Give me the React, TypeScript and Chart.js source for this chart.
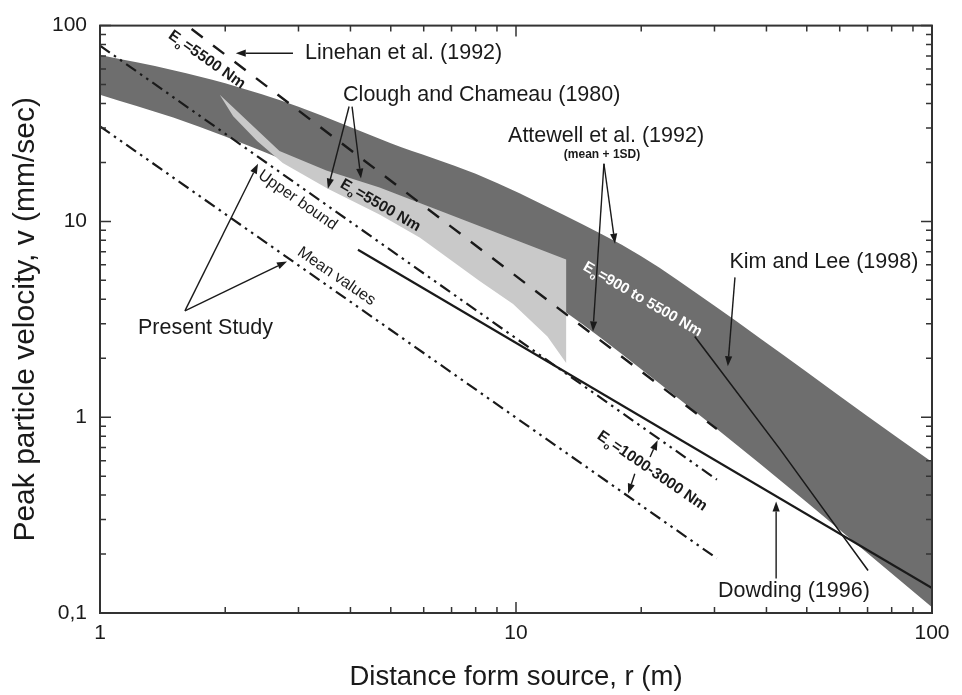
import React, { useEffect, useRef } from "react";
import { Chart, registerables } from "chart.js";

Chart.register(...registerables);

const FONT = "'Liberation Sans', Arial, Helvetica, sans-serif";
const INK = "#1a1a1a";

// ---- Data (r in m, v in mm/sec) ----
const bandR = [1, 1.5, 2, 3, 5, 8, 13, 20, 30, 50, 70, 100];
const bandUpperV = [70.7, 59.2, 50.7, 38.5, 25.1, 17.5, 10.8, 6.64, 3.71, 1.7, 1.01, 0.59];
const bandLowerV = [44.4, 33.9, 27.1, 19.05, 11.4, 6.79, 3.51, 1.76, 0.89, 0.368, 0.202, 0.107];

const cloughUpperR = [1.94, 2.7, 3.5, 4.7, 6.8, 13.2];
const cloughUpperV = [44.4, 22.9, 18.2, 14.9, 11.0, 6.39];
const cloughLowerR = [1.94, 2.09, 2.39, 2.75, 3.53, 4.71, 5.88, 8.19, 9.84, 11.9, 13.2];
const cloughLowerV = [44.4, 34.4, 25.7, 19.9, 14.7, 10.8, 8.25, 4.95, 3.79, 2.58, 1.89];

const linehanR = [1.66, 30.4];
const linehanV = [96, 0.87];
const upperBoundR = [1, 30.4];
const upperBoundV = [79, 0.48];
const meanR = [1, 30.4];
const meanV = [30.6, 0.19];
const dowdingR = [4.17, 100];
const dowdingV = [7.17, 0.134];
const kimR = [26.9, 43.1, 61.1, 70.2];
const kimV = [2.58, 0.687, 0.247, 0.165];

const xTicks = [1, 10, 100];
const xTickLabels = ["1", "10", "100"];
const yTicks = [0.1, 1, 10, 100];
const yTickLabels = ["0,1", "1", "10", "100"];
const minorSteps = [1, 2, 3, 4, 5, 6, 7, 8, 9];

// ---- Annotations (anchored in data coordinates) ----
const plainNotes = [
  { text: "Linehan et al. (1992)", r: 3.11, v: 72.3 },
  { text: "Clough and Chameau (1980)", r: 3.84, v: 44.4 },
  { text: "Attewell et al. (1992)", r: 9.57, v: 27.3 },
  { text: "Kim and Lee (1998)", r: 32.6, v: 6.17 },
  { text: "Present Study", r: 1.234, v: 2.85 },
  { text: "Dowding (1996)", r: 30.6, v: 0.129 },
];
const smallNote = { text: "(mean + 1SD)", r: 16.1, v: 21.9 };

const rotatedNotes = [
  { pre: "E", sub: "o", post: "=5500 Nm", r: 1.803, v: 67.1, angle: 35, bold: true, color: INK, size: 15.5 },
  { pre: "E", sub: "o", post: "=5500 Nm", r: 4.71, v: 12.1, angle: 30, bold: true, color: INK, size: 15.5 },
  { pre: "Upper bound", sub: "", post: "", r: 2.985, v: 12.82, angle: 35, bold: false, color: INK, size: 16 },
  { pre: "Mean values", sub: "", post: "", r: 3.7, v: 5.24, angle: 34.5, bold: false, color: INK, size: 16 },
  { pre: "E", sub: "o", post: "=900 to 5500 Nm", r: 20.1, v: 4.01, angle: 30, bold: true, color: "#ffffff", size: 15 },
  { pre: "E", sub: "o", post: "=1000-3000 Nm", r: 21.2, v: 0.532, angle: 34.5, bold: true, color: INK, size: 15.5 },
];

const arrows = [
  { from: [2.91, 72.3], to: [2.12, 72.3] },
  { from: [3.97, 38.6], to: [3.53, 14.7] },
  { from: [4.035, 38.6], to: [4.24, 16.55] },
  { from: [16.27, 19.7], to: [15.31, 2.74] },
  { from: [16.27, 19.7], to: [17.3, 7.69] },
  { from: [33.6, 5.18], to: [32.3, 1.82] },
  { from: [1.6, 3.49], to: [2.398, 19.7] },
  { from: [1.6, 3.49], to: [2.815, 6.24] },
  { from: [21.0, 0.626], to: [21.9, 0.763] },
  { from: [19.3, 0.514], to: [18.6, 0.407] },
  { from: [42.2, 0.15], to: [42.2, 0.371] },
];

const toPoints = (rs: number[], vs: number[]) => rs.map((r, i) => ({ x: r, y: vs[i] }));

const cloughPolygon = [
  ...toPoints(cloughUpperR, cloughUpperV),
  ...toPoints(cloughLowerR, cloughLowerV).reverse(),
];

function drawArrow(ctx: CanvasRenderingContext2D, x1: number, y1: number, x2: number, y2: number) {
  const head = 10;
  const half = 3.6;
  const ang = Math.atan2(y2 - y1, x2 - x1);
  const bx = x2 - head * Math.cos(ang);
  const by = y2 - head * Math.sin(ang);
  ctx.beginPath();
  ctx.moveTo(x1, y1);
  ctx.lineTo(bx, by);
  ctx.stroke();
  ctx.beginPath();
  ctx.moveTo(x2, y2);
  ctx.lineTo(bx + half * Math.sin(ang), by - half * Math.cos(ang));
  ctx.lineTo(bx - half * Math.sin(ang), by + half * Math.cos(ang));
  ctx.closePath();
  ctx.fill();
}

const overlayPlugin = {
  id: "overlay",
  afterDraw(chart: any) {
    const { ctx, chartArea: a } = chart;
    const xs = chart.scales.x;
    const ys = chart.scales.y;
    const px = (r: number) => xs.getPixelForValue(r);
    const py = (v: number) => ys.getPixelForValue(v);
    ctx.save();

    // frame
    ctx.strokeStyle = "#333";
    ctx.lineWidth = 2;
    ctx.strokeRect(a.left, a.top, a.right - a.left, a.bottom - a.top);

    // inward ticks
    ctx.lineWidth = 1.5;
    const tick = (scale: any, horizontal: boolean) => {
      const e0 = Math.floor(Math.log10(scale.min) + 1e-9);
      const e1 = Math.ceil(Math.log10(scale.max) - 1e-9);
      for (let e = e0; e <= e1; e++) {
        for (const m of minorSteps) {
          const val = m * Math.pow(10, e);
          if (val < scale.min * 0.999 || val > scale.max * 1.001) continue;
          const len = m === 1 ? 11 : 6;
          const p = scale.getPixelForValue(val);
          ctx.beginPath();
          if (horizontal) {
            ctx.moveTo(p, a.bottom);
            ctx.lineTo(p, a.bottom - len);
            ctx.moveTo(p, a.top);
            ctx.lineTo(p, a.top + len);
          } else {
            ctx.moveTo(a.left, p);
            ctx.lineTo(a.left + len, p);
            ctx.moveTo(a.right, p);
            ctx.lineTo(a.right - len, p);
          }
          ctx.stroke();
        }
      }
    };
    tick(xs, true);
    tick(ys, false);

    // arrows
    ctx.strokeStyle = INK;
    ctx.fillStyle = INK;
    ctx.lineWidth = 1.4;
    for (const ar of arrows) {
      drawArrow(ctx, px(ar.from[0]), py(ar.from[1]), px(ar.to[0]), py(ar.to[1]));
    }

    // plain labels
    ctx.textBaseline = "middle";
    ctx.textAlign = "left";
    ctx.fillStyle = INK;
    ctx.font = `21.5px ${FONT}`;
    for (const n of plainNotes) ctx.fillText(n.text, px(n.r), py(n.v));
    ctx.font = `bold 12px ${FONT}`;
    ctx.textAlign = "center";
    ctx.fillText(smallNote.text, px(smallNote.r), py(smallNote.v));

    // rotated labels
    for (const n of rotatedNotes) {
      ctx.save();
      ctx.translate(px(n.r), py(n.v));
      ctx.rotate((n.angle * Math.PI) / 180);
      const weight = n.bold ? "bold " : "";
      const mainF = `${weight}${n.size}px ${FONT}`;
      const subF = `${weight}${n.size * 0.62}px ${FONT}`;
      ctx.font = mainF;
      const w1 = ctx.measureText(n.pre).width;
      let w2 = 0;
      let w3 = 0;
      if (n.sub) {
        ctx.font = subF;
        w2 = ctx.measureText(n.sub).width;
        ctx.font = mainF;
        w3 = ctx.measureText(n.post).width;
      }
      const x0 = -(w1 + w2 + w3) / 2;
      ctx.textAlign = "left";
      ctx.textBaseline = "middle";
      ctx.fillStyle = n.color;
      ctx.font = mainF;
      ctx.fillText(n.pre, x0, 0);
      if (n.sub) {
        ctx.font = subF;
        ctx.fillText(n.sub, x0 + w1, n.size * 0.38);
        ctx.font = mainF;
        ctx.fillText(n.post, x0 + w1 + w2 + 1, 0);
      }
      ctx.restore();
    }
    ctx.restore();
  },
};

const lineDs = (data: any[], extra: any) => ({
  data,
  pointRadius: 0,
  borderColor: INK,
  fill: false,
  tension: 0,
  ...extra,
});

export default function App() {
  const ref = useRef<HTMLCanvasElement | null>(null);

  useEffect(() => {
    document.body.style.margin = "0";
    const canvas = ref.current;
    if (!canvas) return;
    const chart = new Chart(canvas, {
      type: "line",
      data: {
        datasets: [
          lineDs(toPoints(bandR, bandUpperV), {
            fill: "+1",
            backgroundColor: "#6e6e6e",
            borderWidth: 0,
            borderColor: "rgba(0,0,0,0)",
            cubicInterpolationMode: "monotone",
            order: 10,
          }),
          lineDs(toPoints(bandR, bandLowerV), {
            borderWidth: 0,
            borderColor: "rgba(0,0,0,0)",
            cubicInterpolationMode: "monotone",
            order: 11,
          }),
          lineDs(cloughPolygon, { fill: "shape", backgroundColor: "#c9c9c9", borderWidth: 0, order: 9 }),
          lineDs(toPoints(linehanR, linehanV), { borderWidth: 2.4, borderDash: [14, 13], order: 1 }),
          lineDs(toPoints(upperBoundR, upperBoundV), { borderWidth: 2.2, borderDash: [12, 5, 2.5, 5, 2.5, 5], order: 2 }),
          lineDs(toPoints(meanR, meanV), { borderWidth: 2.2, borderDash: [12, 5, 2.5, 5, 2.5, 5], order: 3 }),
          lineDs(toPoints(dowdingR, dowdingV), { borderWidth: 2.2, order: 4 }),
          lineDs(toPoints(kimR, kimV), { borderWidth: 1.6, order: 5 }),
        ],
      },
      options: {
        responsive: false,
        animation: false,
        events: [],
        layout: { padding: { top: 18, right: 30, left: 0, bottom: 0 } },
        plugins: { legend: { display: false }, tooltip: { enabled: false } },
        scales: {
          x: {
            type: "logarithmic",
            min: 1,
            max: 100,
            afterBuildTicks: (s: any) => {
              s.ticks = xTicks.map((v) => ({ value: v }));
            },
            afterFit: (s: any) => {
              s.height = 82;
            },
            grid: { display: false, drawTicks: false },
            border: { display: false },
            ticks: {
              autoSkip: false,
              maxRotation: 0,
              padding: 8,
              color: INK,
              font: { family: FONT, size: 21 },
              callback: (v: any) => {
                const i = xTicks.findIndex((t) => Math.abs(t - Number(v)) < 1e-9 * t);
                return i >= 0 ? xTickLabels[i] : "";
              },
            },
            title: {
              display: true,
              text: "Distance form source, r (m)",
              color: INK,
              font: { family: FONT, size: 27.5 },
              padding: { top: 0, bottom: 1 },
            },
          },
          y: {
            type: "logarithmic",
            min: 0.1,
            max: 100,
            afterBuildTicks: (s: any) => {
              s.ticks = yTicks.map((v) => ({ value: v }));
            },
            afterFit: (s: any) => {
              s.width = 100;
            },
            grid: { display: false, drawTicks: false },
            border: { display: false },
            ticks: {
              autoSkip: false,
              padding: 13,
              color: INK,
              font: { family: FONT, size: 21 },
              callback: (v: any) => {
                const i = yTicks.findIndex((t) => Math.abs(t - Number(v)) < 1e-6 * t);
                return i >= 0 ? yTickLabels[i] : "";
              },
            },
            title: {
              display: true,
              text: "Peak particle velocity, v (mm/sec)",
              color: INK,
              font: { family: FONT, size: 30 },
              padding: { top: 8, bottom: 0 },
            },
          },
        },
      },
      plugins: [overlayPlugin],
    } as any);
    return () => chart.destroy();
  }, []);

  return (
    <div style={{ position: "fixed", left: 0, top: 0, width: 962, height: 695, background: "#fff" }}>
      <canvas ref={ref} width={962} height={695} style={{ display: "block", width: 962, height: 695 }} />
    </div>
  );
}
